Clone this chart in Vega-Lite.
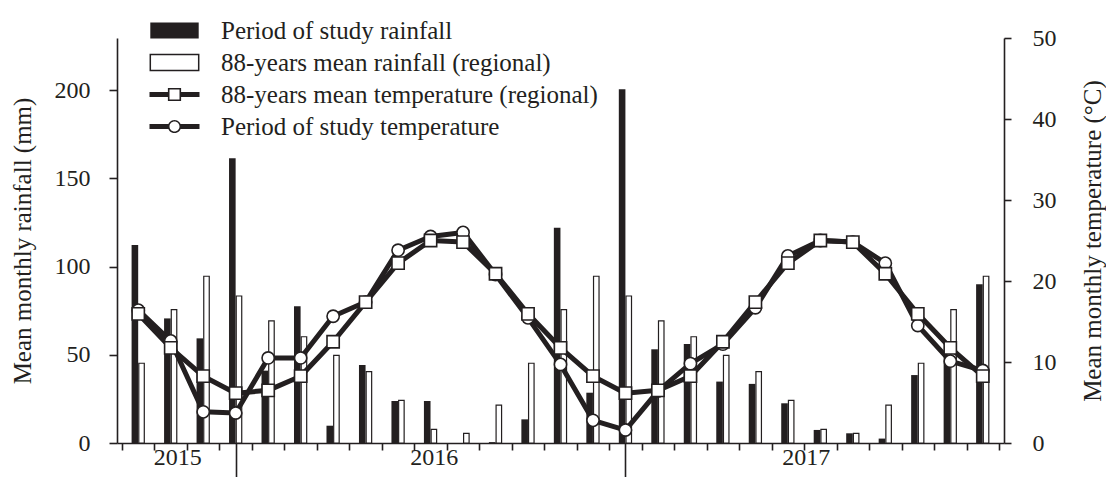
{
  "$schema": "https://vega.github.io/schema/vega-lite/v6.json",
  "width": 887,
  "height": 405,
  "autosize": {"type": "none"},
  "padding": {"left": 117, "top": 38, "right": 102, "bottom": 34},
  "background": "white",
  "config": {
    "font": "Liberation Serif",
    "view": {"stroke": null},
    "axis": {
      "grid": false,
      "domainColor": "#231f20",
      "tickColor": "#231f20",
      "labelColor": "#231f20",
      "titleColor": "#231f20",
      "labelFont": "Liberation Serif",
      "titleFont": "Liberation Serif",
      "labelFontSize": 24,
      "titleFontSize": 25,
      "titleFontWeight": "normal",
      "domainWidth": 1.6,
      "tickWidth": 1.6
    }
  },
  "data": {
    "values": [
      {"m": 0, "month": "2015-10", "series": "Period of study rainfall", "v": 112.2},
      {"m": 1, "month": "2015-11", "series": "Period of study rainfall", "v": 70.6},
      {"m": 2, "month": "2015-12", "series": "Period of study rainfall", "v": 59.3},
      {"m": 3, "month": "2016-01", "series": "Period of study rainfall", "v": 161.3},
      {"m": 4, "month": "2016-02", "series": "Period of study rainfall", "v": 41},
      {"m": 5, "month": "2016-03", "series": "Period of study rainfall", "v": 77.5},
      {"m": 6, "month": "2016-04", "series": "Period of study rainfall", "v": 9.8},
      {"m": 7, "month": "2016-05", "series": "Period of study rainfall", "v": 44.2},
      {"m": 8, "month": "2016-06", "series": "Period of study rainfall", "v": 23.8},
      {"m": 9, "month": "2016-07", "series": "Period of study rainfall", "v": 23.8},
      {"m": 10, "month": "2016-08", "series": "Period of study rainfall", "v": 0},
      {"m": 11, "month": "2016-09", "series": "Period of study rainfall", "v": 0.5},
      {"m": 12, "month": "2016-10", "series": "Period of study rainfall", "v": 13.4},
      {"m": 13, "month": "2016-11", "series": "Period of study rainfall", "v": 122},
      {"m": 14, "month": "2016-12", "series": "Period of study rainfall", "v": 28.5},
      {"m": 15, "month": "2017-01", "series": "Period of study rainfall", "v": 200.4},
      {"m": 16, "month": "2017-02", "series": "Period of study rainfall", "v": 53.1},
      {"m": 17, "month": "2017-03", "series": "Period of study rainfall", "v": 56.1},
      {"m": 18, "month": "2017-04", "series": "Period of study rainfall", "v": 34.8},
      {"m": 19, "month": "2017-05", "series": "Period of study rainfall", "v": 33.5},
      {"m": 20, "month": "2017-06", "series": "Period of study rainfall", "v": 22.5},
      {"m": 21, "month": "2017-07", "series": "Period of study rainfall", "v": 7.4},
      {"m": 22, "month": "2017-08", "series": "Period of study rainfall", "v": 5.5},
      {"m": 23, "month": "2017-09", "series": "Period of study rainfall", "v": 2.5},
      {"m": 24, "month": "2017-10", "series": "Period of study rainfall", "v": 38.5},
      {"m": 25, "month": "2017-11", "series": "Period of study rainfall", "v": 50},
      {"m": 26, "month": "2017-12", "series": "Period of study rainfall", "v": 89.9},

      {"m": 0, "month": "2015-10", "series": "88-years mean rainfall (regional)", "v": 45.2},
      {"m": 1, "month": "2015-11", "series": "88-years mean rainfall (regional)", "v": 75.6},
      {"m": 2, "month": "2015-12", "series": "88-years mean rainfall (regional)", "v": 94.5},
      {"m": 3, "month": "2016-01", "series": "88-years mean rainfall (regional)", "v": 83.3},
      {"m": 4, "month": "2016-02", "series": "88-years mean rainfall (regional)", "v": 69.2},
      {"m": 5, "month": "2016-03", "series": "88-years mean rainfall (regional)", "v": 60.2},
      {"m": 6, "month": "2016-04", "series": "88-years mean rainfall (regional)", "v": 49.7},
      {"m": 7, "month": "2016-05", "series": "88-years mean rainfall (regional)", "v": 40.4},
      {"m": 8, "month": "2016-06", "series": "88-years mean rainfall (regional)", "v": 24.2},
      {"m": 9, "month": "2016-07", "series": "88-years mean rainfall (regional)", "v": 7.7},
      {"m": 10, "month": "2016-08", "series": "88-years mean rainfall (regional)", "v": 5.5},
      {"m": 11, "month": "2016-09", "series": "88-years mean rainfall (regional)", "v": 21.5},
      {"m": 12, "month": "2016-10", "series": "88-years mean rainfall (regional)", "v": 45.2},
      {"m": 13, "month": "2016-11", "series": "88-years mean rainfall (regional)", "v": 75.6},
      {"m": 14, "month": "2016-12", "series": "88-years mean rainfall (regional)", "v": 94.5},
      {"m": 15, "month": "2017-01", "series": "88-years mean rainfall (regional)", "v": 83.3},
      {"m": 16, "month": "2017-02", "series": "88-years mean rainfall (regional)", "v": 69.2},
      {"m": 17, "month": "2017-03", "series": "88-years mean rainfall (regional)", "v": 60.2},
      {"m": 18, "month": "2017-04", "series": "88-years mean rainfall (regional)", "v": 49.7},
      {"m": 19, "month": "2017-05", "series": "88-years mean rainfall (regional)", "v": 40.4},
      {"m": 20, "month": "2017-06", "series": "88-years mean rainfall (regional)", "v": 24.2},
      {"m": 21, "month": "2017-07", "series": "88-years mean rainfall (regional)", "v": 7.7},
      {"m": 22, "month": "2017-08", "series": "88-years mean rainfall (regional)", "v": 5.5},
      {"m": 23, "month": "2017-09", "series": "88-years mean rainfall (regional)", "v": 21.5},
      {"m": 24, "month": "2017-10", "series": "88-years mean rainfall (regional)", "v": 45.2},
      {"m": 25, "month": "2017-11", "series": "88-years mean rainfall (regional)", "v": 75.6},
      {"m": 26, "month": "2017-12", "series": "88-years mean rainfall (regional)", "v": 94.5},

      {"m": 0, "month": "2015-10", "series": "Period of study temperature", "v": 16.4},
      {"m": 1, "month": "2015-11", "series": "Period of study temperature", "v": 12.6},
      {"m": 2, "month": "2015-12", "series": "Period of study temperature", "v": 3.85},
      {"m": 3, "month": "2016-01", "series": "Period of study temperature", "v": 3.7},
      {"m": 4, "month": "2016-02", "series": "Period of study temperature", "v": 10.5},
      {"m": 5, "month": "2016-03", "series": "Period of study temperature", "v": 10.5},
      {"m": 6, "month": "2016-04", "series": "Period of study temperature", "v": 15.65},
      {"m": 7, "month": "2016-05", "series": "Period of study temperature", "v": 17.4},
      {"m": 8, "month": "2016-06", "series": "Period of study temperature", "v": 23.8},
      {"m": 9, "month": "2016-07", "series": "Period of study temperature", "v": 25.5},
      {"m": 10, "month": "2016-08", "series": "Period of study temperature", "v": 26.0},
      {"m": 11, "month": "2016-09", "series": "Period of study temperature", "v": 20.8},
      {"m": 12, "month": "2016-10", "series": "Period of study temperature", "v": 15.45},
      {"m": 13, "month": "2016-11", "series": "Period of study temperature", "v": 9.7},
      {"m": 14, "month": "2016-12", "series": "Period of study temperature", "v": 2.8},
      {"m": 15, "month": "2017-01", "series": "Period of study temperature", "v": 1.6},
      {"m": 16, "month": "2017-02", "series": "Period of study temperature", "v": 6.4},
      {"m": 17, "month": "2017-03", "series": "Period of study temperature", "v": 9.8},
      {"m": 18, "month": "2017-04", "series": "Period of study temperature", "v": 12.2},
      {"m": 19, "month": "2017-05", "series": "Period of study temperature", "v": 16.7},
      {"m": 20, "month": "2017-06", "series": "Period of study temperature", "v": 23.1},
      {"m": 21, "month": "2017-07", "series": "Period of study temperature", "v": 25.0},
      {"m": 22, "month": "2017-08", "series": "Period of study temperature", "v": 24.8},
      {"m": 23, "month": "2017-09", "series": "Period of study temperature", "v": 22.2},
      {"m": 24, "month": "2017-10", "series": "Period of study temperature", "v": 14.5},
      {"m": 25, "month": "2017-11", "series": "Period of study temperature", "v": 10.1},
      {"m": 26, "month": "2017-12", "series": "Period of study temperature", "v": 8.95},

      {"m": 0, "month": "2015-10", "series": "88-years mean temperature (regional)", "v": 15.95},
      {"m": 1, "month": "2015-11", "series": "88-years mean temperature (regional)", "v": 11.75},
      {"m": 2, "month": "2015-12", "series": "88-years mean temperature (regional)", "v": 8.25},
      {"m": 3, "month": "2016-01", "series": "88-years mean temperature (regional)", "v": 6.15},
      {"m": 4, "month": "2016-02", "series": "88-years mean temperature (regional)", "v": 6.5},
      {"m": 5, "month": "2016-03", "series": "88-years mean temperature (regional)", "v": 8.25},
      {"m": 6, "month": "2016-04", "series": "88-years mean temperature (regional)", "v": 12.5},
      {"m": 7, "month": "2016-05", "series": "88-years mean temperature (regional)", "v": 17.4},
      {"m": 8, "month": "2016-06", "series": "88-years mean temperature (regional)", "v": 22.2},
      {"m": 9, "month": "2016-07", "series": "88-years mean temperature (regional)", "v": 25.0},
      {"m": 10, "month": "2016-08", "series": "88-years mean temperature (regional)", "v": 24.8},
      {"m": 11, "month": "2016-09", "series": "88-years mean temperature (regional)", "v": 20.9},
      {"m": 12, "month": "2016-10", "series": "88-years mean temperature (regional)", "v": 15.95},
      {"m": 13, "month": "2016-11", "series": "88-years mean temperature (regional)", "v": 11.75},
      {"m": 14, "month": "2016-12", "series": "88-years mean temperature (regional)", "v": 8.25},
      {"m": 15, "month": "2017-01", "series": "88-years mean temperature (regional)", "v": 6.15},
      {"m": 16, "month": "2017-02", "series": "88-years mean temperature (regional)", "v": 6.5},
      {"m": 17, "month": "2017-03", "series": "88-years mean temperature (regional)", "v": 8.25},
      {"m": 18, "month": "2017-04", "series": "88-years mean temperature (regional)", "v": 12.5},
      {"m": 19, "month": "2017-05", "series": "88-years mean temperature (regional)", "v": 17.4},
      {"m": 20, "month": "2017-06", "series": "88-years mean temperature (regional)", "v": 22.2},
      {"m": 21, "month": "2017-07", "series": "88-years mean temperature (regional)", "v": 25.0},
      {"m": 22, "month": "2017-08", "series": "88-years mean temperature (regional)", "v": 24.8},
      {"m": 23, "month": "2017-09", "series": "88-years mean temperature (regional)", "v": 20.9},
      {"m": 24, "month": "2017-10", "series": "88-years mean temperature (regional)", "v": 15.95},
      {"m": 25, "month": "2017-11", "series": "88-years mean temperature (regional)", "v": 11.75},
      {"m": 26, "month": "2017-12", "series": "88-years mean temperature (regional)", "v": 8.25}
    ]
  },
  "layer": [
    {
      "transform": [{"filter": "datum.series == 'Period of study rainfall'"}],
      "mark": {"type": "bar", "width": 6.6, "xOffset": -3.35},
      "encoding": {
        "x": {
          "field": "m", "type": "quantitative",
          "scale": {"domain": [-0.5, 26.5], "nice": false, "zero": false},
          "axis": {
            "orient": "bottom", "title": null, "labels": false,
            "values": [-0.5, 0.5, 1.5, 2.5, 3.5, 4.5, 5.5, 6.5, 7.5, 8.5, 9.5, 10.5, 11.5, 12.5, 13.5, 14.5, 15.5, 16.5, 17.5, 18.5, 19.5, 20.5, 21.5, 22.5, 23.5, 24.5, 25.5, 26.5],
            "tickSize": 7
          }
        },
        "y": {
          "field": "v", "type": "quantitative",
          "scale": {"domain": [0, 229.5], "nice": false},
          "axis": {
            "orient": "left", "values": [0, 50, 100, 150, 200],
            "title": "Mean monthly rainfall (mm)",
            "tickSize": 8, "labelPadding": 19, "titlePadding": 19
          }
        },
        "fill": {
          "field": "series", "type": "nominal",
          "scale": {
            "domain": ["Period of study rainfall", "88-years mean rainfall (regional)", "88-years mean temperature (regional)", "Period of study temperature"],
            "range": ["#231f20", "#ffffff", "#231f20", "#231f20"]
          },
          "legend": {
            "orient": "none", "legendX": 45, "legendY": -20, "title": null,
            "symbolSize": 400, "symbolStrokeWidth": 1.5,
            "labelFont": "Liberation Serif", "labelFontSize": 25, "labelColor": "#231f20",
            "labelOffset": 34, "labelLimit": 700, "rowPadding": 6,
            "encode": {
              "symbols": {
                "update": {
                  "shape": {"signal": "datum.value == 'Period of study rainfall' || datum.value == '88-years mean rainfall (regional)' ? 'M-2.42,-0.8H2.42V0.8H-2.42Z' : datum.value == '88-years mean temperature (regional)' ? 'M-2.5,-0.24H-0.62V0.24H-2.5Z M0.62,-0.24H2.5V0.24H0.62Z M-0.66,-0.66H0.66V0.66H-0.66Z M-0.5,-0.5V0.5H0.5V-0.5Z' : 'M-2.5,-0.24H-0.56V0.24H-2.5Z M0.56,-0.24H2.5V0.24H0.56Z M0.66,0A0.66,0.66 0 1,1 -0.66,0A0.66,0.66 0 1,1 0.66,0Z M0.5,0A0.5,0.5 0 1,0 -0.5,0A0.5,0.5 0 1,0 0.5,0Z'"},
                  "fill": {"signal": "datum.value == '88-years mean rainfall (regional)' ? '#ffffff' : '#231f20'"},
                  "stroke": {"signal": "datum.value == '88-years mean rainfall (regional)' ? '#231f20' : 'transparent'"},
                  "strokeWidth": {"value": 1.5},
                  "opacity": {"value": 1}
                }
              }
            }
          }
        }
      }
    },
    {
      "transform": [{"filter": "datum.series == '88-years mean rainfall (regional)'"}],
      "mark": {"type": "bar", "width": 5.5, "xOffset": 3.3, "stroke": "#231f20", "strokeWidth": 1.2},
      "encoding": {
        "x": {
          "field": "m", "type": "quantitative",
          "scale": {"domain": [-0.5, 26.5], "nice": false, "zero": false},
          "axis": {
            "orient": "bottom", "title": null, "labels": false, "domain": false,
            "values": [3, 15], "tickSize": 36
          }
        },
        "y": {
          "field": "v", "type": "quantitative",
          "scale": {"domain": [0, 229.5], "nice": false},
          "axis": null
        },
        "fill": {
          "field": "series", "type": "nominal",
          "scale": {
            "domain": ["Period of study rainfall", "88-years mean rainfall (regional)", "88-years mean temperature (regional)", "Period of study temperature"],
            "range": ["#231f20", "#ffffff", "#231f20", "#231f20"]
          }
        }
      }
    },
    {
      "transform": [{"filter": "datum.series == 'Period of study temperature' || datum.series == '88-years mean temperature (regional)'"}],
      "mark": {"type": "line", "stroke": "#231f20", "strokeWidth": 5, "strokeJoin": "round"},
      "encoding": {
        "x": {
          "field": "m", "type": "quantitative",
          "scale": {"domain": [-0.5, 26.5], "nice": false, "zero": false},
          "axis": {
            "orient": "bottom", "title": null, "domain": false, "ticks": false,
            "values": [1.2, 9.1, 20.55], "labelPadding": 2,
            "labelExpr": "datum.value < 5 ? '2015' : datum.value < 15 ? '2016' : '2017'"
          }
        },
        "y": {
          "field": "v", "type": "quantitative",
          "scale": {"domain": [0, 50], "nice": false},
          "axis": {
            "orient": "right", "values": [0, 10, 20, 30, 40, 50],
            "title": "Mean monthly temperature (°C)", "titleAngle": -90,
            "tickSize": 7, "labelPadding": 21, "titlePadding": 49
          }
        },
        "detail": {"field": "series", "type": "nominal"}
      }
    },
    {
      "transform": [{"filter": "datum.series == 'Period of study temperature' || datum.series == '88-years mean temperature (regional)'"}],
      "mark": {"type": "point", "filled": true, "fill": "#ffffff", "stroke": "#231f20", "strokeWidth": 1.6, "size": 150, "opacity": 1},
      "encoding": {
        "x": {
          "field": "m", "type": "quantitative",
          "scale": {"domain": [-0.5, 26.5], "nice": false, "zero": false},
          "axis": null
        },
        "y": {
          "field": "v", "type": "quantitative",
          "scale": {"domain": [0, 50], "nice": false},
          "axis": null
        },
        "shape": {
          "field": "series", "type": "nominal",
          "scale": {"domain": ["88-years mean temperature (regional)", "Period of study temperature"], "range": ["square", "circle"]},
          "legend": null
        }
      }
    }
  ],
  "resolve": {"scale": {"y": "independent"}, "axis": {"x": "independent"}}
}
